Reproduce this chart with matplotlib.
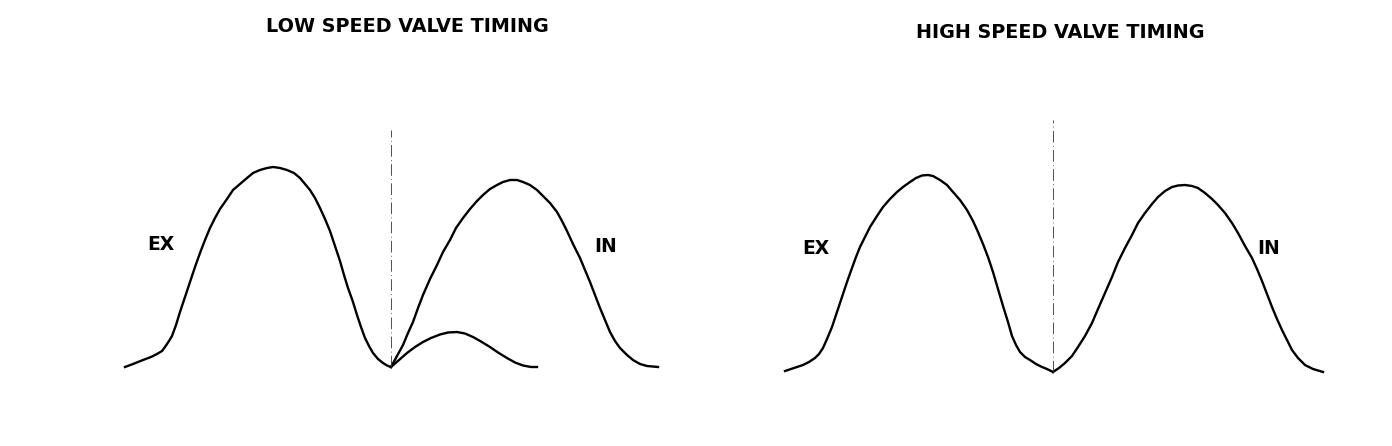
import numpy as np
import matplotlib
matplotlib.use("Agg")
import matplotlib.pyplot as plt

# cam lift traces
# x = offset from TDC line, y = lift above baseline (both in px of the original)
low_ex_x = [-266, -258, -248, -240, -234, -229, -226, -222, -219, -215, -211, -206, -201, -196,
            -191, -186, -181, -176, -171, -164, -158, -151, -144, -138, -131, -124, -118, -111,
            -104, -97, -91, -86, -81, -76, -71, -66, -61, -56, -51, -47, -43, -38, -34, -30,
            -26, -22, -18, -13, -8, -4, 0]
low_ex_y = [0, 3, 7, 10, 13, 16, 20, 26, 31, 42, 55, 70, 85, 100,
            114, 127, 139, 149, 158, 168, 177, 183, 189, 194, 197, 199, 200, 199,
            197, 194, 189, 183, 177, 169, 159, 148, 136, 121, 106, 92, 79, 65, 52, 40,
            29, 21, 14, 8, 4, 1.5, 0]

low_in_x = [0, 6, 12, 17, 22, 27, 32, 39, 46, 52, 59, 65, 72, 79, 86, 92, 99, 106, 112, 119,
            126, 132, 139, 146, 152, 159, 166, 171, 176, 182, 189, 194, 199, 204, 209, 214,
            219, 224, 229, 236, 242, 249, 256, 267]
low_in_y = [0, 11, 22, 34, 45, 59, 72, 88, 102, 115, 127, 139, 149, 158, 166, 172, 178, 182,
            185, 187, 187, 185, 182, 177, 171, 164, 155, 146, 136, 123, 109, 97, 85, 72, 59,
            47, 35, 26, 19, 12, 7, 3, 1, 0]

# secondary (low lift) intake cam
low_in2_x = [0, 8, 16, 24, 32, 40, 49, 57, 66, 74, 82, 90, 99, 107, 116, 124, 132, 140, 146]
low_in2_y = [0, 7, 14, 20, 25, 29, 32.5, 34.5, 35, 33.5, 30, 25.5, 20, 14.5, 9, 4.5, 1.5, 0, 0]

high_ex_x = [-268, -259, -250, -244, -238, -234, -230, -226, -221, -216, -211, -206, -201, -197,
             -193, -188, -183, -176, -170, -163, -156, -150, -143, -137, -131, -125, -120,
             -113, -106, -100, -93, -86, -80, -75, -70, -65, -60, -55, -50, -45, -41, -37,
             -33, -28, -23, -17, -11, -6, 0]
high_ex_y = [1, 4, 7, 10, 14, 18, 24, 33, 45, 60, 75, 90, 104, 115,
             125, 135, 145, 156, 165, 173, 180, 185, 190, 194, 196.5, 197, 196,
             192, 187, 180, 172, 162, 151, 140, 128, 115, 100, 83, 66, 50, 36, 27,
             20, 15, 12, 8, 5, 3, 0]

high_in_x = [0, 6, 12, 19, 25, 32, 39, 45, 52, 59, 65, 72, 79, 85, 92, 99, 105, 112, 119, 125,
             132, 139, 145, 152, 159, 165, 172, 179, 185, 192, 199, 204, 209, 214, 219, 224,
             229, 234, 239, 245, 252, 260, 270]
high_in_y = [0, 4, 9, 16, 25, 36, 49, 63, 79, 95, 110, 124, 137, 149, 159, 168, 175, 181, 185,
             186.5, 187, 186, 184, 179, 173, 167, 159, 149, 139, 126, 114, 103, 91, 78, 65, 53,
             42, 32, 22, 14, 7, 3, 0]

titles = ["LOW SPEED VALVE TIMING", "HIGH SPEED VALVE TIMING"]

fig = plt.figure(figsize=(13.92, 4.46), dpi=100)
plt.rcParams['font.family'] = ['DejaVu Sans']

# each panel: 1 data unit = 1 pixel
ax1 = fig.add_axes([0, 0, 0.5, 1])
ax1.set_xlim(-391, 305)
ax1.set_ylim(-79, 367)
ax2 = fig.add_axes([0.5, 0, 0.5, 1])
ax2.set_xlim(-357, 339)
ax2.set_ylim(-74, 372)

lw = 1.7
dash = (0, (14, 4, 1, 4))
ax1.plot(low_ex_x, low_ex_y, color='black', lw=lw, solid_joinstyle='round')
ax1.plot(low_in_x, low_in_y, color='black', lw=lw, solid_joinstyle='round')
ax1.plot(low_in2_x, low_in2_y, color='black', lw=lw, solid_joinstyle='round')
ax1.plot([0, 0], [0, 237], color='#333333', lw=0.6, linestyle=dash)

ax2.plot(high_ex_x, high_ex_y, color='black', lw=lw, solid_joinstyle='round')
ax2.plot(high_in_x, high_in_y, color='black', lw=lw, solid_joinstyle='round')
ax2.plot([0, 0], [0, 252], color='#333333', lw=0.6, linestyle=dash)

ax1.text(16, 340, titles[0], ha='center', va='center', fontsize=13.8, fontweight='bold')
ax2.text(7, 340, titles[1], ha='center', va='center', fontsize=13.8, fontweight='bold')

ax1.text(-230, 123, "EX", ha='center', va='center', fontsize=13.5, fontweight='bold')
ax1.text(215, 121, "IN", ha='center', va='center', fontsize=13.5, fontweight='bold')
ax2.text(-237, 124, "EX", ha='center', va='center', fontsize=13.5, fontweight='bold')
ax2.text(216, 123, "IN", ha='center', va='center', fontsize=13.5, fontweight='bold')

for ax in (ax1, ax2):
    ax.axis('off')

fig.savefig("out.png", dpi=100)
